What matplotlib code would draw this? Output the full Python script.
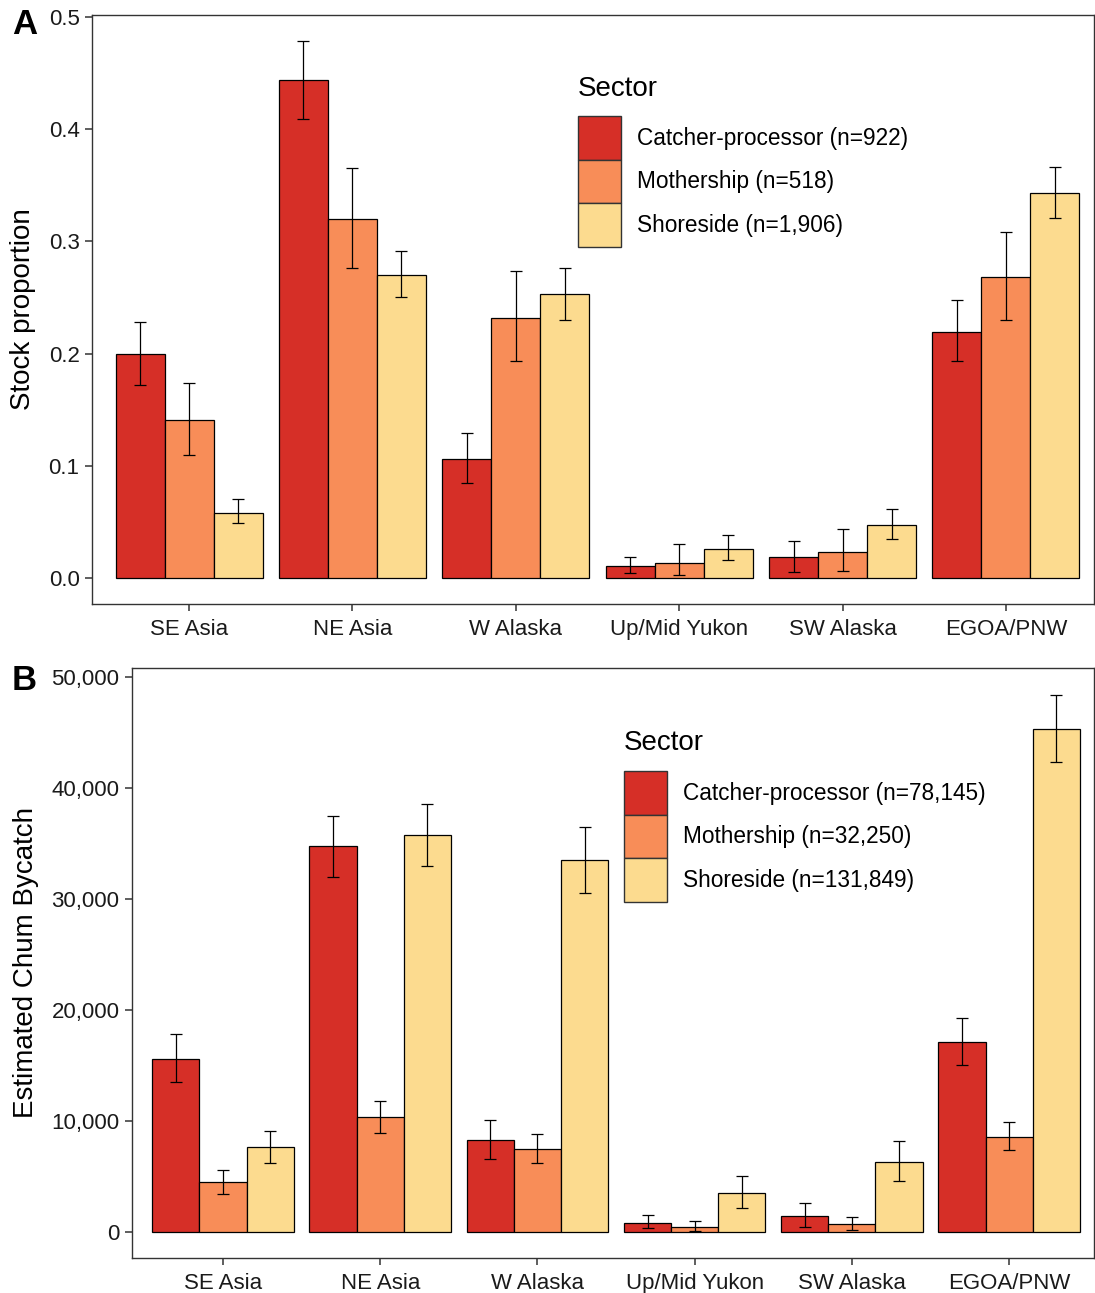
import matplotlib.pyplot as plt
import numpy as np
from matplotlib.patches import Patch
from matplotlib.ticker import FuncFormatter

plt.rcParams['font.family'] = ['Liberation Sans', 'DejaVu Sans']

regions = ['SE Asia', 'NE Asia', 'W Alaska', 'Up/Mid Yukon', 'SW Alaska', 'EGOA/PNW']
sectors = ['Catcher-processor', 'Mothership', 'Shoreside']
colors = ['#D62F27', '#F88D58', '#FCDB8F']

# panel A: stock proportions with interval bounds
prop_cp = [0.200, 0.444, 0.106, 0.0107, 0.0187, 0.219]
prop_cp_lo = [0.172, 0.409, 0.085, 0.0047, 0.0056, 0.193]
prop_cp_hi = [0.228, 0.479, 0.129, 0.019, 0.033, 0.248]
prop_ms = [0.141, 0.320, 0.232, 0.0136, 0.0232, 0.268]
prop_ms_lo = [0.110, 0.276, 0.193, 0.0027, 0.006, 0.230]
prop_ms_hi = [0.174, 0.365, 0.274, 0.030, 0.044, 0.308]
prop_ss = [0.058, 0.270, 0.253, 0.026, 0.0475, 0.343]
prop_ss_lo = [0.049, 0.250, 0.230, 0.0163, 0.0345, 0.321]
prop_ss_hi = [0.070, 0.291, 0.276, 0.0386, 0.0618, 0.366]
n_prop = ['922', '518', '1,906']

# panel B: estimated chum bycatch with interval bounds
chum_cp = [15586, 34775, 8288, 838, 1441, 17117]
chum_cp_lo = [13514, 31982, 6577, 333, 450, 15045]
chum_cp_hi = [17840, 37477, 10090, 1532, 2613, 19279]
chum_ms = [4505, 10360, 7477, 423, 721, 8559]
chum_ms_lo = [3423, 8919, 6216, 90, 180, 7387]
chum_ms_hi = [5586, 11800, 8829, 982, 1381, 9910]
chum_ss = [7658, 35766, 33514, 3483, 6276, 45315]
chum_ss_lo = [6216, 32973, 30540, 2162, 4565, 42342]
chum_ss_hi = [9100, 38559, 36486, 5075, 8200, 48378]
n_chum = ['78,145', '32,250', '131,849']

W, H = 1095, 1293
fig = plt.figure(figsize=(W / 100, H / 100), dpi=100)

def px_axes(l, t, r, b):
    return fig.add_axes([l / W, 1 - b / H, (r - l) / W, (b - t) / H])

axA = px_axes(92, 15, 1094, 604)
axB = px_axes(132, 668, 1094, 1258)

x = np.arange(1, 7)
bw = 0.3

def draw_panel(ax, series, ylabel):
    for k, (vals, lo, hi) in enumerate(series):
        xs = x + (k - 1) * bw
        vals = np.array(vals)
        ax.bar(xs, vals, width=bw, color=colors[k], edgecolor='black', linewidth=0.9, zorder=2)
        ax.errorbar(xs, vals, yerr=[vals - np.array(lo), np.array(hi) - vals], fmt='none',
                    ecolor='black', elinewidth=0.9, capsize=4, capthick=0.9, zorder=3)
    ax.set_xticks(x)
    ax.set_xticklabels(regions, fontsize=16, color='#1a1a1a')
    ax.tick_params(axis='both', length=5, width=1.1, color='#333333', labelsize=16,
                   labelcolor='#1a1a1a', pad=4)
    ax.tick_params(axis='x', pad=6)
    ax.set_ylabel(ylabel, fontsize=20, labelpad=9)
    for s in ax.spines.values():
        s.set_color('#333333')
        s.set_linewidth(1.0)

draw_panel(axA, [(prop_cp, prop_cp_lo, prop_cp_hi),
                 (prop_ms, prop_ms_lo, prop_ms_hi),
                 (prop_ss, prop_ss_lo, prop_ss_hi)], 'Stock proportion')
axA.set_xlim(0.406, 6.539)
axA.set_ylim(-0.0232, 0.5018)
axA.set_yticks([0.0, 0.1, 0.2, 0.3, 0.4, 0.5])
axA.set_yticklabels(['0.0', '0.1', '0.2', '0.3', '0.4', '0.5'])

draw_panel(axB, [(chum_cp, chum_cp_lo, chum_cp_hi),
                 (chum_ms, chum_ms_lo, chum_ms_hi),
                 (chum_ss, chum_ss_lo, chum_ss_hi)], 'Estimated Chum Bycatch')
axB.set_xlim(0.421, 6.54)
axB.set_ylim(-2342, 50811)
axB.set_yticks([0, 10000, 20000, 30000, 40000, 50000])
axB.yaxis.set_major_formatter(FuncFormatter(lambda v, p: f'{int(v):,}'))

def sector_legend(ax, counts, tx, ty, bx, by):
    fig.text(tx / W, 1 - ty / H, 'Sector', fontsize=20, ha='left', va='center')
    handles = [Patch(facecolor=c, edgecolor='#333333', linewidth=1.0) for c in colors]
    labels = [f'{s} (n={n})' for s, n in zip(sectors, counts)]
    ax.legend(handles, labels, loc='upper left', bbox_to_anchor=(bx / W, 1 - by / H),
              bbox_transform=fig.transFigure, frameon=False, fontsize=16.3,
              handlelength=1.92, handleheight=2.58, labelspacing=0.0,
              handletextpad=0.7, borderpad=0, borderaxespad=0)

sector_legend(axA, n_prop, 578, 89, 578, 116)
sector_legend(axB, n_chum, 624, 743, 624, 771)

fig.text(12 / W, 1 - 25 / H, 'A', fontsize=25, fontweight='bold', ha='left', va='center')
fig.text(12 / W, 1 - 681 / H, 'B', fontsize=25, fontweight='bold', ha='left', va='center')

fig.savefig('out.png', dpi=100)
